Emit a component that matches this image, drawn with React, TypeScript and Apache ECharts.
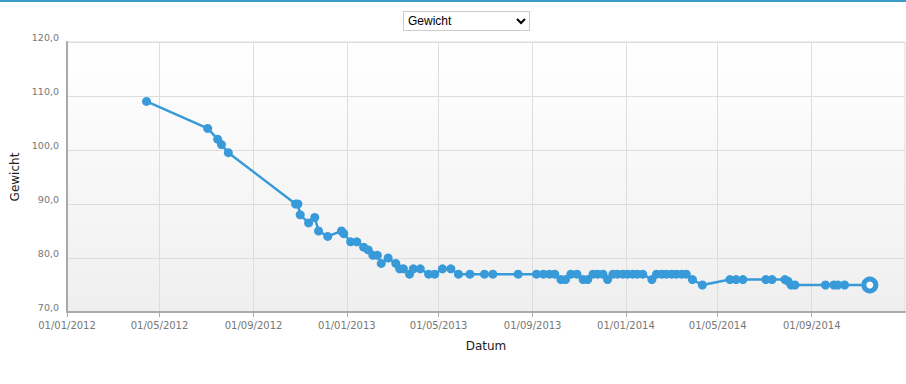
import React, { useEffect, useRef } from "react";
import * as echarts from "echarts";

const dates: string[] = [
  "2012-04-14", "2012-07-03", "2012-07-16", "2012-07-21", "2012-07-30",
  "2012-10-26", "2012-10-29", "2012-11-01", "2012-11-12", "2012-11-20",
  "2012-11-25", "2012-12-07", "2012-12-25", "2012-12-28", "2013-01-06",
  "2013-01-14", "2013-01-23", "2013-01-29", "2013-02-04", "2013-02-10",
  "2013-02-15", "2013-02-24", "2013-03-06", "2013-03-11", "2013-03-16",
  "2013-03-24", "2013-03-29", "2013-04-07", "2013-04-18", "2013-04-26",
  "2013-05-06", "2013-05-17", "2013-05-27", "2013-06-11", "2013-06-30",
  "2013-07-11", "2013-08-13", "2013-09-06", "2013-09-15", "2013-09-23",
  "2013-09-30", "2013-10-08", "2013-10-14", "2013-10-21", "2013-10-29",
  "2013-11-06", "2013-11-12", "2013-11-19", "2013-11-25", "2013-12-02",
  "2013-12-08", "2013-12-15", "2013-12-21", "2013-12-28", "2014-01-03",
  "2014-01-10", "2014-01-16", "2014-01-23", "2014-02-04", "2014-02-10",
  "2014-02-17", "2014-02-23", "2014-03-02", "2014-03-08", "2014-03-15",
  "2014-03-21", "2014-03-29", "2014-04-11", "2014-05-17", "2014-05-25",
  "2014-06-03", "2014-07-03", "2014-07-11", "2014-07-28", "2014-08-01",
  "2014-08-05", "2014-08-10", "2014-09-19", "2014-09-30", "2014-10-05",
  "2014-10-14", "2014-11-16",
];

const weights: number[] = [
  109, 104, 102, 101, 99.5,
  90, 90, 88, 86.5, 87.5,
  85, 84, 85, 84.5, 83,
  83, 82, 81.5, 80.5, 80.5,
  79, 80, 79, 78, 78,
  77, 78, 78, 77, 77,
  78, 78, 77, 77, 77,
  77, 77, 77, 77, 77,
  77, 76, 76, 77, 77,
  76, 76, 77, 77, 77,
  76, 77, 77, 77, 77,
  77, 77, 77, 76, 77,
  77, 77, 77, 77, 77,
  77, 76, 75, 76, 76,
  76, 76, 76, 76, 75.7,
  75, 75, 75, 75, 75,
  75, 75,
];

const tickDates: string[] = [
  "2012-01-01", "2012-05-01", "2012-09-01", "2013-01-01", "2013-05-01",
  "2013-09-01", "2014-01-01", "2014-05-01", "2014-09-01",
];

const xMinDate = "2012-01-01";
const xMaxDate = "2015-01-01";
const yMin = 70;
const yMax = 120;
const yStep = 10;

const LINE = "#389ad8";

function toTs(s: string): number {
  const [y, m, d] = s.split("-").map(Number);
  return new Date(y, m - 1, d).getTime();
}

function pad(n: number): string {
  return n < 10 ? "0" + n : "" + n;
}

function fmtDate(ts: number): string {
  const d = new Date(ts);
  return pad(d.getDate()) + "/" + pad(d.getMonth() + 1) + "/" + d.getFullYear();
}

export default function App() {
  const ref = useRef<HTMLDivElement>(null);

  useEffect(() => {
    document.body.style.margin = "0";
    if (!ref.current) return;
    const chart = echarts.init(ref.current, undefined, { renderer: "svg" });
    const last = dates.length - 1;
    const data = dates.map((d, i) =>
      i === last
        ? {
            value: [toTs(d), weights[i]],
            symbolSize: 12,
            itemStyle: { color: "#ffffff", borderColor: LINE, borderWidth: 5 },
          }
        : { value: [toTs(d), weights[i]] }
    );
    const ticks = tickDates.map(toTs);
    chart.setOption({
      animation: false,
      backgroundColor: "#ffffff",
      grid: {
        left: 67,
        right: 1,
        top: 42,
        bottom: 72,
        show: true,
        borderColor: "#dddddd",
        borderWidth: 1,
        backgroundColor: new echarts.graphic.LinearGradient(0, 0, 0, 1, [
          { offset: 0, color: "#ffffff" },
          { offset: 1, color: "#efefef" },
        ]),
      },
      xAxis: {
        type: "value",
        min: toTs(xMinDate),
        max: toTs(xMaxDate),
        scale: true,
        name: "Datum",
        nameLocation: "middle",
        nameGap: 28,
        nameTextStyle: { color: "#222", fontSize: 12, fontFamily: "DejaVu Sans" },
        axisLine: { show: true, onZero: false, lineStyle: { color: "#aaaaaa", width: 2 } },
        axisTick: { show: true, length: 5, lineStyle: { color: "#aaaaaa" }, customValues: ticks },
        axisLabel: {
          customValues: ticks,
          formatter: (v: number) => fmtDate(v),
          color: "#777",
          fontSize: 10,
          fontFamily: "DejaVu Sans",
          margin: 8,
          hideOverlap: false,
        },
        splitLine: { show: true, lineStyle: { color: "#dddddd", width: 1 } },
      },
      yAxis: {
        type: "value",
        min: yMin,
        max: yMax,
        interval: yStep,
        name: "Gewicht",
        nameLocation: "middle",
        nameGap: 42,
        nameTextStyle: { color: "#222", fontSize: 12, fontFamily: "DejaVu Sans" },
        axisLine: { show: true, lineStyle: { color: "#aaaaaa", width: 2 } },
        axisTick: { show: false },
        axisLabel: {
          formatter: (v: number) => v.toFixed(1).replace(".", ","),
          color: "#777",
          fontSize: 9.5,
          fontFamily: "DejaVu Sans",
          margin: 8,
          verticalAlign: "bottom",
        },
        splitLine: { show: true, lineStyle: { color: "#dddddd", width: 1 } },
      },
      series: [
        {
          type: "line",
          data,
          symbol: "circle",
          symbolSize: 9,
          showSymbol: true,
          lineStyle: { color: LINE, width: 2.5 },
          itemStyle: { color: LINE },
        },
      ],
    });
    return () => chart.dispose();
  }, []);

  return (
    <div style={{ position: "relative", width: 906, height: 384, background: "#fff" }}>
      <div ref={ref} style={{ position: "absolute", left: 0, top: 0, width: 906, height: 384 }} />
      <div
        style={{
          position: "absolute",
          left: 0,
          top: 0,
          width: 906,
          height: 2,
          background: "#3a9cc6",
        }}
      />
      <select
        defaultValue="Gewicht"
        style={{
          position: "absolute",
          left: 403,
          top: 11,
          width: 127,
          height: 20,
          fontFamily: "'Liberation Sans', Arial, sans-serif",
          fontSize: 12,
          border: "1px solid #cccccc",
          background: "#ffffff",
          color: "#000",
          padding: 0,
        }}
      >
        <option value="Gewicht">Gewicht</option>
      </select>
    </div>
  );
}
